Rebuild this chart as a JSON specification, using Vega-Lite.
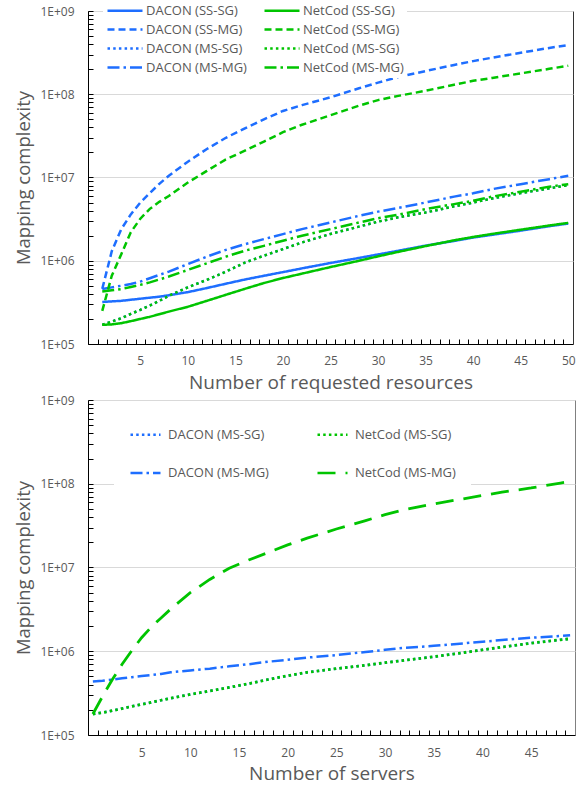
{
  "$schema": "https://vega.github.io/schema/vega-lite/v6.json",
  "padding": {"left": 14, "top": 0, "right": 0, "bottom": 0},
  "spacing": 0,
  "config": {
    "font": "Open Sans",
    "axis": {"domainColor": "#000000", "tickColor": "#000000", "labelColor": "#595959", "titleColor": "#595959", "labelFontSize": 12, "titleFontSize": 19, "titleFontWeight": "normal", "gridColor": "#d9d9d9", "labelFont": "Open Sans", "titleFont": "Open Sans"},
    "axisY": {"titleFontSize": 18.5},
    "legend": {"labelFont": "Open Sans", "labelColor": "#595959", "labelFontSize": 13}
  },
  "datasets": {
    "top": [
      {"s":"DACON (SS-SG)","x":1,"y":320000},{"s":"DACON (SS-SG)","x":2,"y":325000},{"s":"DACON (SS-SG)","x":3,"y":330000},{"s":"DACON (SS-SG)","x":4,"y":340000},{"s":"DACON (SS-SG)","x":5,"y":350000},{"s":"DACON (SS-SG)","x":6,"y":360000},{"s":"DACON (SS-SG)","x":7,"y":370000},{"s":"DACON (SS-SG)","x":8,"y":385000},{"s":"DACON (SS-SG)","x":10,"y":420000},{"s":"DACON (SS-SG)","x":12,"y":470000},{"s":"DACON (SS-SG)","x":14,"y":530000},{"s":"DACON (SS-SG)","x":16,"y":595000},{"s":"DACON (SS-SG)","x":18,"y":660000},{"s":"DACON (SS-SG)","x":20,"y":730000},{"s":"DACON (SS-SG)","x":22,"y":810000},{"s":"DACON (SS-SG)","x":25,"y":940000},{"s":"DACON (SS-SG)","x":28,"y":1080000},{"s":"DACON (SS-SG)","x":30,"y":1190000},{"s":"DACON (SS-SG)","x":32,"y":1310000},{"s":"DACON (SS-SG)","x":35,"y":1520000},{"s":"DACON (SS-SG)","x":38,"y":1730000},{"s":"DACON (SS-SG)","x":40,"y":1900000},{"s":"DACON (SS-SG)","x":42,"y":2050000},{"s":"DACON (SS-SG)","x":45,"y":2300000},{"s":"DACON (SS-SG)","x":48,"y":2600000},{"s":"DACON (SS-SG)","x":50,"y":2800000},
      {"s":"NetCod (SS-SG)","x":1,"y":170000},{"s":"NetCod (SS-SG)","x":2,"y":172000},{"s":"NetCod (SS-SG)","x":3,"y":178000},{"s":"NetCod (SS-SG)","x":4,"y":188000},{"s":"NetCod (SS-SG)","x":5,"y":200000},{"s":"NetCod (SS-SG)","x":6,"y":212000},{"s":"NetCod (SS-SG)","x":7,"y":228000},{"s":"NetCod (SS-SG)","x":8,"y":245000},{"s":"NetCod (SS-SG)","x":10,"y":280000},{"s":"NetCod (SS-SG)","x":12,"y":330000},{"s":"NetCod (SS-SG)","x":14,"y":390000},{"s":"NetCod (SS-SG)","x":16,"y":460000},{"s":"NetCod (SS-SG)","x":18,"y":540000},{"s":"NetCod (SS-SG)","x":20,"y":620000},{"s":"NetCod (SS-SG)","x":22,"y":700000},{"s":"NetCod (SS-SG)","x":25,"y":840000},{"s":"NetCod (SS-SG)","x":28,"y":1000000},{"s":"NetCod (SS-SG)","x":30,"y":1130000},{"s":"NetCod (SS-SG)","x":32,"y":1270000},{"s":"NetCod (SS-SG)","x":35,"y":1500000},{"s":"NetCod (SS-SG)","x":38,"y":1760000},{"s":"NetCod (SS-SG)","x":40,"y":1930000},{"s":"NetCod (SS-SG)","x":42,"y":2100000},{"s":"NetCod (SS-SG)","x":45,"y":2360000},{"s":"NetCod (SS-SG)","x":48,"y":2650000},{"s":"NetCod (SS-SG)","x":50,"y":2850000},
      {"s":"DACON (SS-MG)","x":1,"y":460000},{"s":"DACON (SS-MG)","x":2,"y":1300000},{"s":"DACON (SS-MG)","x":3,"y":2400000},{"s":"DACON (SS-MG)","x":4,"y":3600000},{"s":"DACON (SS-MG)","x":5,"y":5000000},{"s":"DACON (SS-MG)","x":6,"y":6500000},{"s":"DACON (SS-MG)","x":7,"y":8400000},{"s":"DACON (SS-MG)","x":8,"y":10500000},{"s":"DACON (SS-MG)","x":10,"y":15500000},{"s":"DACON (SS-MG)","x":12,"y":22000000},{"s":"DACON (SS-MG)","x":14,"y":30000000},{"s":"DACON (SS-MG)","x":16,"y":39000000},{"s":"DACON (SS-MG)","x":18,"y":50000000},{"s":"DACON (SS-MG)","x":20,"y":63000000},{"s":"DACON (SS-MG)","x":22,"y":74000000},{"s":"DACON (SS-MG)","x":25,"y":92000000},{"s":"DACON (SS-MG)","x":28,"y":118000000},{"s":"DACON (SS-MG)","x":30,"y":138000000},{"s":"DACON (SS-MG)","x":32,"y":160000000},{"s":"DACON (SS-MG)","x":35,"y":190000000},{"s":"DACON (SS-MG)","x":38,"y":225000000},{"s":"DACON (SS-MG)","x":40,"y":250000000},{"s":"DACON (SS-MG)","x":42,"y":275000000},{"s":"DACON (SS-MG)","x":45,"y":315000000},{"s":"DACON (SS-MG)","x":48,"y":360000000},{"s":"DACON (SS-MG)","x":50,"y":390000000},
      {"s":"NetCod (SS-MG)","x":1,"y":250000},{"s":"NetCod (SS-MG)","x":2,"y":660000},{"s":"NetCod (SS-MG)","x":3,"y":1200000},{"s":"NetCod (SS-MG)","x":4,"y":2200000},{"s":"NetCod (SS-MG)","x":5,"y":3200000},{"s":"NetCod (SS-MG)","x":6,"y":4200000},{"s":"NetCod (SS-MG)","x":7,"y":5100000},{"s":"NetCod (SS-MG)","x":8,"y":6000000},{"s":"NetCod (SS-MG)","x":10,"y":8700000},{"s":"NetCod (SS-MG)","x":12,"y":12000000},{"s":"NetCod (SS-MG)","x":14,"y":16500000},{"s":"NetCod (SS-MG)","x":16,"y":21000000},{"s":"NetCod (SS-MG)","x":18,"y":27000000},{"s":"NetCod (SS-MG)","x":20,"y":35000000},{"s":"NetCod (SS-MG)","x":22,"y":43000000},{"s":"NetCod (SS-MG)","x":25,"y":56000000},{"s":"NetCod (SS-MG)","x":28,"y":73000000},{"s":"NetCod (SS-MG)","x":30,"y":85000000},{"s":"NetCod (SS-MG)","x":32,"y":95000000},{"s":"NetCod (SS-MG)","x":35,"y":110000000},{"s":"NetCod (SS-MG)","x":38,"y":130000000},{"s":"NetCod (SS-MG)","x":40,"y":145000000},{"s":"NetCod (SS-MG)","x":42,"y":157000000},{"s":"NetCod (SS-MG)","x":45,"y":178000000},{"s":"NetCod (SS-MG)","x":48,"y":202000000},{"s":"NetCod (SS-MG)","x":50,"y":220000000},
      {"s":"DACON (MS-SG)","x":1,"y":170000},{"s":"DACON (MS-SG)","x":2,"y":186000},{"s":"DACON (MS-SG)","x":3,"y":204000},{"s":"DACON (MS-SG)","x":4,"y":230000},{"s":"DACON (MS-SG)","x":5,"y":257000},{"s":"DACON (MS-SG)","x":6,"y":290000},{"s":"DACON (MS-SG)","x":7,"y":330000},{"s":"DACON (MS-SG)","x":8,"y":380000},{"s":"DACON (MS-SG)","x":10,"y":480000},{"s":"DACON (MS-SG)","x":12,"y":590000},{"s":"DACON (MS-SG)","x":14,"y":740000},{"s":"DACON (MS-SG)","x":16,"y":950000},{"s":"DACON (MS-SG)","x":18,"y":1150000},{"s":"DACON (MS-SG)","x":20,"y":1380000},{"s":"DACON (MS-SG)","x":22,"y":1660000},{"s":"DACON (MS-SG)","x":25,"y":2100000},{"s":"DACON (MS-SG)","x":28,"y":2570000},{"s":"DACON (MS-SG)","x":30,"y":2950000},{"s":"DACON (MS-SG)","x":32,"y":3300000},{"s":"DACON (MS-SG)","x":35,"y":3800000},{"s":"DACON (MS-SG)","x":38,"y":4500000},{"s":"DACON (MS-SG)","x":40,"y":5000000},{"s":"DACON (MS-SG)","x":42,"y":5600000},{"s":"DACON (MS-SG)","x":45,"y":6500000},{"s":"DACON (MS-SG)","x":48,"y":7400000},{"s":"DACON (MS-SG)","x":50,"y":8100000},
      {"s":"NetCod (MS-SG)","x":1,"y":170000},{"s":"NetCod (MS-SG)","x":2,"y":186000},{"s":"NetCod (MS-SG)","x":3,"y":204000},{"s":"NetCod (MS-SG)","x":4,"y":230000},{"s":"NetCod (MS-SG)","x":5,"y":257000},{"s":"NetCod (MS-SG)","x":6,"y":290000},{"s":"NetCod (MS-SG)","x":7,"y":330000},{"s":"NetCod (MS-SG)","x":8,"y":380000},{"s":"NetCod (MS-SG)","x":10,"y":480000},{"s":"NetCod (MS-SG)","x":12,"y":590000},{"s":"NetCod (MS-SG)","x":14,"y":740000},{"s":"NetCod (MS-SG)","x":16,"y":950000},{"s":"NetCod (MS-SG)","x":18,"y":1150000},{"s":"NetCod (MS-SG)","x":20,"y":1380000},{"s":"NetCod (MS-SG)","x":22,"y":1660000},{"s":"NetCod (MS-SG)","x":25,"y":2100000},{"s":"NetCod (MS-SG)","x":28,"y":2570000},{"s":"NetCod (MS-SG)","x":30,"y":2950000},{"s":"NetCod (MS-SG)","x":32,"y":3300000},{"s":"NetCod (MS-SG)","x":35,"y":3800000},{"s":"NetCod (MS-SG)","x":38,"y":4500000},{"s":"NetCod (MS-SG)","x":40,"y":5000000},{"s":"NetCod (MS-SG)","x":42,"y":5600000},{"s":"NetCod (MS-SG)","x":45,"y":6500000},{"s":"NetCod (MS-SG)","x":48,"y":7400000},{"s":"NetCod (MS-SG)","x":50,"y":8100000},
      {"s":"DACON (MS-MG)","x":1,"y":457000},{"s":"DACON (MS-MG)","x":2,"y":479000},{"s":"DACON (MS-MG)","x":3,"y":501000},{"s":"DACON (MS-MG)","x":4,"y":525000},{"s":"DACON (MS-MG)","x":5,"y":562000},{"s":"DACON (MS-MG)","x":6,"y":617000},{"s":"DACON (MS-MG)","x":7,"y":676000},{"s":"DACON (MS-MG)","x":8,"y":741000},{"s":"DACON (MS-MG)","x":10,"y":912000},{"s":"DACON (MS-MG)","x":12,"y":1120000},{"s":"DACON (MS-MG)","x":14,"y":1350000},{"s":"DACON (MS-MG)","x":16,"y":1580000},{"s":"DACON (MS-MG)","x":18,"y":1820000},{"s":"DACON (MS-MG)","x":20,"y":2090000},{"s":"DACON (MS-MG)","x":22,"y":2400000},{"s":"DACON (MS-MG)","x":25,"y":2880000},{"s":"DACON (MS-MG)","x":28,"y":3470000},{"s":"DACON (MS-MG)","x":30,"y":3890000},{"s":"DACON (MS-MG)","x":32,"y":4270000},{"s":"DACON (MS-MG)","x":35,"y":5010000},{"s":"DACON (MS-MG)","x":38,"y":5890000},{"s":"DACON (MS-MG)","x":40,"y":6460000},{"s":"DACON (MS-MG)","x":42,"y":7240000},{"s":"DACON (MS-MG)","x":45,"y":8320000},{"s":"DACON (MS-MG)","x":48,"y":9550000},{"s":"DACON (MS-MG)","x":50,"y":10500000},
      {"s":"NetCod (MS-MG)","x":1,"y":427000},{"s":"NetCod (MS-MG)","x":2,"y":442000},{"s":"NetCod (MS-MG)","x":3,"y":457000},{"s":"NetCod (MS-MG)","x":4,"y":484000},{"s":"NetCod (MS-MG)","x":5,"y":513000},{"s":"NetCod (MS-MG)","x":6,"y":550000},{"s":"NetCod (MS-MG)","x":7,"y":596000},{"s":"NetCod (MS-MG)","x":8,"y":646000},{"s":"NetCod (MS-MG)","x":10,"y":776000},{"s":"NetCod (MS-MG)","x":12,"y":933000},{"s":"NetCod (MS-MG)","x":14,"y":1120000},{"s":"NetCod (MS-MG)","x":16,"y":1320000},{"s":"NetCod (MS-MG)","x":18,"y":1510000},{"s":"NetCod (MS-MG)","x":20,"y":1740000},{"s":"NetCod (MS-MG)","x":22,"y":2000000},{"s":"NetCod (MS-MG)","x":25,"y":2400000},{"s":"NetCod (MS-MG)","x":28,"y":2880000},{"s":"NetCod (MS-MG)","x":30,"y":3240000},{"s":"NetCod (MS-MG)","x":32,"y":3550000},{"s":"NetCod (MS-MG)","x":35,"y":4170000},{"s":"NetCod (MS-MG)","x":38,"y":4790000},{"s":"NetCod (MS-MG)","x":40,"y":5250000},{"s":"NetCod (MS-MG)","x":42,"y":5890000},{"s":"NetCod (MS-MG)","x":45,"y":6760000},{"s":"NetCod (MS-MG)","x":48,"y":7760000},{"s":"NetCod (MS-MG)","x":50,"y":8320000}
    ],
    "bottom": [
      {"s":"DACON (MS-SG)","x":0,"y":178000},{"s":"DACON (MS-SG)","x":1,"y":185000},{"s":"DACON (MS-SG)","x":2,"y":195000},{"s":"DACON (MS-SG)","x":3,"y":207000},{"s":"DACON (MS-SG)","x":4,"y":220000},{"s":"DACON (MS-SG)","x":5,"y":232000},{"s":"DACON (MS-SG)","x":6,"y":245000},{"s":"DACON (MS-SG)","x":7,"y":260000},{"s":"DACON (MS-SG)","x":8,"y":275000},{"s":"DACON (MS-SG)","x":10,"y":305000},{"s":"DACON (MS-SG)","x":12,"y":335000},{"s":"DACON (MS-SG)","x":14,"y":370000},{"s":"DACON (MS-SG)","x":16,"y":410000},{"s":"DACON (MS-SG)","x":18,"y":460000},{"s":"DACON (MS-SG)","x":20,"y":510000},{"s":"DACON (MS-SG)","x":22,"y":560000},{"s":"DACON (MS-SG)","x":25,"y":620000},{"s":"DACON (MS-SG)","x":28,"y":680000},{"s":"DACON (MS-SG)","x":30,"y":730000},{"s":"DACON (MS-SG)","x":32,"y":780000},{"s":"DACON (MS-SG)","x":35,"y":860000},{"s":"DACON (MS-SG)","x":38,"y":960000},{"s":"DACON (MS-SG)","x":40,"y":1040000},{"s":"DACON (MS-SG)","x":42,"y":1120000},{"s":"DACON (MS-SG)","x":45,"y":1250000},{"s":"DACON (MS-SG)","x":48,"y":1370000},{"s":"DACON (MS-SG)","x":49,"y":1410000},
      {"s":"DACON (MS-MG)","x":0,"y":435000},{"s":"DACON (MS-MG)","x":1,"y":445000},{"s":"DACON (MS-MG)","x":2,"y":460000},{"s":"DACON (MS-MG)","x":3,"y":475000},{"s":"DACON (MS-MG)","x":4,"y":490000},{"s":"DACON (MS-MG)","x":5,"y":505000},{"s":"DACON (MS-MG)","x":6,"y":520000},{"s":"DACON (MS-MG)","x":7,"y":535000},{"s":"DACON (MS-MG)","x":8,"y":560000},{"s":"DACON (MS-MG)","x":10,"y":590000},{"s":"DACON (MS-MG)","x":12,"y":620000},{"s":"DACON (MS-MG)","x":14,"y":660000},{"s":"DACON (MS-MG)","x":16,"y":700000},{"s":"DACON (MS-MG)","x":18,"y":750000},{"s":"DACON (MS-MG)","x":20,"y":790000},{"s":"DACON (MS-MG)","x":22,"y":840000},{"s":"DACON (MS-MG)","x":25,"y":900000},{"s":"DACON (MS-MG)","x":28,"y":980000},{"s":"DACON (MS-MG)","x":30,"y":1040000},{"s":"DACON (MS-MG)","x":32,"y":1100000},{"s":"DACON (MS-MG)","x":35,"y":1160000},{"s":"DACON (MS-MG)","x":38,"y":1240000},{"s":"DACON (MS-MG)","x":40,"y":1300000},{"s":"DACON (MS-MG)","x":42,"y":1360000},{"s":"DACON (MS-MG)","x":45,"y":1450000},{"s":"DACON (MS-MG)","x":48,"y":1520000},{"s":"DACON (MS-MG)","x":49,"y":1550000},
      {"s":"NetCod (MS-SG)","x":0,"y":178000},{"s":"NetCod (MS-SG)","x":1,"y":185000},{"s":"NetCod (MS-SG)","x":2,"y":195000},{"s":"NetCod (MS-SG)","x":3,"y":207000},{"s":"NetCod (MS-SG)","x":4,"y":220000},{"s":"NetCod (MS-SG)","x":5,"y":232000},{"s":"NetCod (MS-SG)","x":6,"y":245000},{"s":"NetCod (MS-SG)","x":7,"y":260000},{"s":"NetCod (MS-SG)","x":8,"y":275000},{"s":"NetCod (MS-SG)","x":10,"y":305000},{"s":"NetCod (MS-SG)","x":12,"y":335000},{"s":"NetCod (MS-SG)","x":14,"y":370000},{"s":"NetCod (MS-SG)","x":16,"y":410000},{"s":"NetCod (MS-SG)","x":18,"y":460000},{"s":"NetCod (MS-SG)","x":20,"y":510000},{"s":"NetCod (MS-SG)","x":22,"y":560000},{"s":"NetCod (MS-SG)","x":25,"y":620000},{"s":"NetCod (MS-SG)","x":28,"y":680000},{"s":"NetCod (MS-SG)","x":30,"y":730000},{"s":"NetCod (MS-SG)","x":32,"y":780000},{"s":"NetCod (MS-SG)","x":35,"y":860000},{"s":"NetCod (MS-SG)","x":38,"y":960000},{"s":"NetCod (MS-SG)","x":40,"y":1040000},{"s":"NetCod (MS-SG)","x":42,"y":1120000},{"s":"NetCod (MS-SG)","x":45,"y":1250000},{"s":"NetCod (MS-SG)","x":48,"y":1370000},{"s":"NetCod (MS-SG)","x":49,"y":1410000},
      {"s":"NetCod (MS-MG)","x":0,"y":178000},{"s":"NetCod (MS-MG)","x":1,"y":290000},{"s":"NetCod (MS-MG)","x":2,"y":460000},{"s":"NetCod (MS-MG)","x":3,"y":700000},{"s":"NetCod (MS-MG)","x":4,"y":1020000},{"s":"NetCod (MS-MG)","x":5,"y":1450000},{"s":"NetCod (MS-MG)","x":6,"y":1950000},{"s":"NetCod (MS-MG)","x":7,"y":2500000},{"s":"NetCod (MS-MG)","x":8,"y":3200000},{"s":"NetCod (MS-MG)","x":10,"y":5000000},{"s":"NetCod (MS-MG)","x":12,"y":7200000},{"s":"NetCod (MS-MG)","x":14,"y":9800000},{"s":"NetCod (MS-MG)","x":16,"y":12300000},{"s":"NetCod (MS-MG)","x":18,"y":15100000},{"s":"NetCod (MS-MG)","x":20,"y":18600000},{"s":"NetCod (MS-MG)","x":22,"y":22400000},{"s":"NetCod (MS-MG)","x":25,"y":28800000},{"s":"NetCod (MS-MG)","x":28,"y":36300000},{"s":"NetCod (MS-MG)","x":30,"y":42700000},{"s":"NetCod (MS-MG)","x":32,"y":49000000},{"s":"NetCod (MS-MG)","x":35,"y":57500000},{"s":"NetCod (MS-MG)","x":38,"y":66000000},{"s":"NetCod (MS-MG)","x":40,"y":72400000},{"s":"NetCod (MS-MG)","x":42,"y":79400000},{"s":"NetCod (MS-MG)","x":45,"y":89000000},{"s":"NetCod (MS-MG)","x":48,"y":102000000},{"s":"NetCod (MS-MG)","x":49,"y":107000000}
    ]
  },
  "resolve": {"scale": {"color": "independent", "strokeDash": "independent", "x": "independent", "y": "independent"}, "legend": {"color": "independent", "strokeDash": "independent"}},
  "vconcat": [
    {
      "width": 485,
      "height": 333,
      "view": {"stroke": "#333333"},
      "data": {"name": "top"},
      "resolve": {"axis": {"x": "independent"}},
      "encoding": {
        "y": {"field": "y", "type": "quantitative", "scale": {"type": "log", "domain": [100000, 1000000000], "nice": false},
          "axis": {"title": "Mapping complexity", "tickSize": -5, "labelPadding": 19, "titlePadding": 6, "labelOverlap": false, "labelBound": false, "labelFlush": false,
            "values": [100000,200000,300000,400000,500000,600000,700000,800000,900000,1000000,2000000,3000000,4000000,5000000,6000000,7000000,8000000,9000000,10000000,20000000,30000000,40000000,50000000,60000000,70000000,80000000,90000000,100000000,200000000,300000000,400000000,500000000,600000000,700000000,800000000,900000000,1000000000],
            "labelExpr": "abs(log(datum.value)/LN10 - round(log(datum.value)/LN10)) < 0.001 ? '1E+0' + round(log(datum.value)/LN10) : ''",
            "gridOpacity": {"condition": {"test": "abs(log(datum.value)/LN10 - round(log(datum.value)/LN10)) < 0.001", "value": 1}, "value": 0}}},
        "color": {"field": "s", "type": "nominal",
          "scale": {"domain": ["DACON (SS-SG)", "DACON (SS-MG)", "DACON (MS-SG)", "DACON (MS-MG)", "NetCod (SS-SG)", "NetCod (SS-MG)", "NetCod (MS-SG)", "NetCod (MS-MG)"],
            "range": ["#1E6EFF", "#1E6EFF", "#1E6EFF", "#1E6EFF", "#00C400", "#00C400", "#00C400", "#00C400"]},
          "legend": {"title": null, "orient": "none", "legendX": 15, "legendY": -10, "columns": 2, "symbolType": "M-1,0H6", "symbolSize": 100, "symbolStrokeWidth": 2.5, "labelOffset": 27, "rowPadding": 5, "columnPadding": 12, "padding": 3, "fillColor": "white", "labelLimit": 300}},
        "strokeDash": {"field": "s", "type": "nominal",
          "scale": {"domain": ["DACON (SS-SG)", "DACON (SS-MG)", "DACON (MS-SG)", "DACON (MS-MG)", "NetCod (SS-SG)", "NetCod (SS-MG)", "NetCod (MS-SG)", "NetCod (MS-MG)"],
            "range": [[1, 0], [7, 4], [2.5, 3.2], [12, 4, 2.5, 4], [1, 0], [7, 4], [2.5, 3.2], [12, 4, 2.5, 4]]},
          "legend": {"title": null, "orient": "none", "legendX": 15, "legendY": -10, "columns": 2, "symbolType": "M-1,0H6", "symbolSize": 100, "symbolStrokeWidth": 2.5, "labelOffset": 27, "rowPadding": 5, "columnPadding": 12, "padding": 3, "fillColor": "white", "labelLimit": 300}}
      },
      "layer": [
        {"transform": [{"filter": "indexof(datum.s, 'DACON') == 0"}], "mark": {"type": "line", "strokeWidth": 2.5},
          "encoding": {"x": {"field": "x", "type": "quantitative", "scale": {"domain": [-0.5, 50.5], "nice": false, "zero": false},
            "axis": {"orient": "bottom", "title": "Number of requested resources", "grid": false, "ticks": false, "labelPadding": 11, "titlePadding": 7, "labelFlush": false, "labelOverlap": false, "values": [5,10,15,20,25,30,35,40,45,50]}}}},
        {"transform": [{"filter": "indexof(datum.s, 'NetCod') == 0"}], "mark": {"type": "line", "strokeWidth": 2.5},
          "encoding": {"x": {"field": "x", "type": "quantitative", "scale": {"domain": [-0.5, 50.5], "nice": false, "zero": false},
            "axis": {"orient": "bottom", "title": null, "grid": false, "labels": false, "domain": false, "tickSize": -5,
              "values": [0.5,1.5,2.5,3.5,4.5,5.5,6.5,7.5,8.5,9.5,10.5,11.5,12.5,13.5,14.5,15.5,16.5,17.5,18.5,19.5,20.5,21.5,22.5,23.5,24.5,25.5,26.5,27.5,28.5,29.5,30.5,31.5,32.5,33.5,34.5,35.5,36.5,37.5,38.5,39.5,40.5,41.5,42.5,43.5,44.5,45.5,46.5,47.5,48.5,49.5]}}}}
      ]
    },
    {
      "width": 487,
      "height": 335,
      "view": {"stroke": "#808080"},
      "data": {"name": "bottom"},
      "resolve": {"axis": {"x": "independent"}},
      "encoding": {
        "y": {"field": "y", "type": "quantitative", "scale": {"type": "log", "domain": [100000, 1000000000], "nice": false},
          "axis": {"title": "Mapping complexity", "tickSize": -5, "labelPadding": 19, "titlePadding": 6, "labelOverlap": false, "labelBound": false, "labelFlush": false,
            "values": [100000,200000,300000,400000,500000,600000,700000,800000,900000,1000000,2000000,3000000,4000000,5000000,6000000,7000000,8000000,9000000,10000000,20000000,30000000,40000000,50000000,60000000,70000000,80000000,90000000,100000000,200000000,300000000,400000000,500000000,600000000,700000000,800000000,900000000,1000000000],
            "labelExpr": "abs(log(datum.value)/LN10 - round(log(datum.value)/LN10)) < 0.001 ? '1E+0' + round(log(datum.value)/LN10) : ''",
            "gridOpacity": {"condition": {"test": "abs(log(datum.value)/LN10 - round(log(datum.value)/LN10)) < 0.001", "value": 1}, "value": 0}}},
        "color": {"field": "s", "type": "nominal",
          "scale": {"domain": ["DACON (MS-SG)", "DACON (MS-MG)", "NetCod (MS-SG)", "NetCod (MS-MG)"], "range": ["#1E6EFF", "#1E6EFF", "#00C400", "#00C400"]},
          "legend": {"title": null, "orient": "none", "legendX": 26, "legendY": 3, "columns": 2, "symbolType": "stroke", "symbolSize": 900, "symbolStrokeWidth": 2.5, "labelOffset": 6, "rowPadding": 14.4, "columnPadding": 43, "padding": 15, "fillColor": "white", "labelLimit": 300}},
        "strokeDash": {"field": "s", "type": "nominal",
          "scale": {"domain": ["DACON (MS-SG)", "DACON (MS-MG)", "NetCod (MS-SG)", "NetCod (MS-MG)"], "range": [[2.5, 3.2], [12, 4, 2.5, 4], [2.5, 3.2], [18, 10]]},
          "legend": {"title": null, "orient": "none", "legendX": 26, "legendY": 3, "columns": 2, "symbolType": "stroke", "symbolSize": 900, "symbolStrokeWidth": 2.5, "labelOffset": 6, "rowPadding": 14.4, "columnPadding": 43, "padding": 15, "fillColor": "white", "labelLimit": 300}}
      },
      "layer": [
        {"transform": [{"filter": "indexof(datum.s, 'DACON') == 0"}], "mark": {"type": "line", "strokeWidth": 2.5},
          "encoding": {"x": {"field": "x", "type": "quantitative", "scale": {"domain": [-0.5, 49.5], "nice": false, "zero": false},
            "axis": {"orient": "bottom", "title": "Number of servers", "grid": false, "ticks": false, "labelPadding": 12, "titlePadding": 6, "labelFlush": false, "labelOverlap": false, "values": [5,10,15,20,25,30,35,40,45]}}}},
        {"transform": [{"filter": "indexof(datum.s, 'NetCod') == 0"}], "mark": {"type": "line", "strokeWidth": 2.8},
          "encoding": {"x": {"field": "x", "type": "quantitative", "scale": {"domain": [-0.5, 49.5], "nice": false, "zero": false},
            "axis": {"orient": "bottom", "title": null, "grid": false, "labels": false, "domain": false, "tickSize": -5,
              "values": [0.5,1.5,2.5,3.5,4.5,5.5,6.5,7.5,8.5,9.5,10.5,11.5,12.5,13.5,14.5,15.5,16.5,17.5,18.5,19.5,20.5,21.5,22.5,23.5,24.5,25.5,26.5,27.5,28.5,29.5,30.5,31.5,32.5,33.5,34.5,35.5,36.5,37.5,38.5,39.5,40.5,41.5,42.5,43.5,44.5,45.5,46.5,47.5,48.5]}}}}
      ]
    }
  ]
}
